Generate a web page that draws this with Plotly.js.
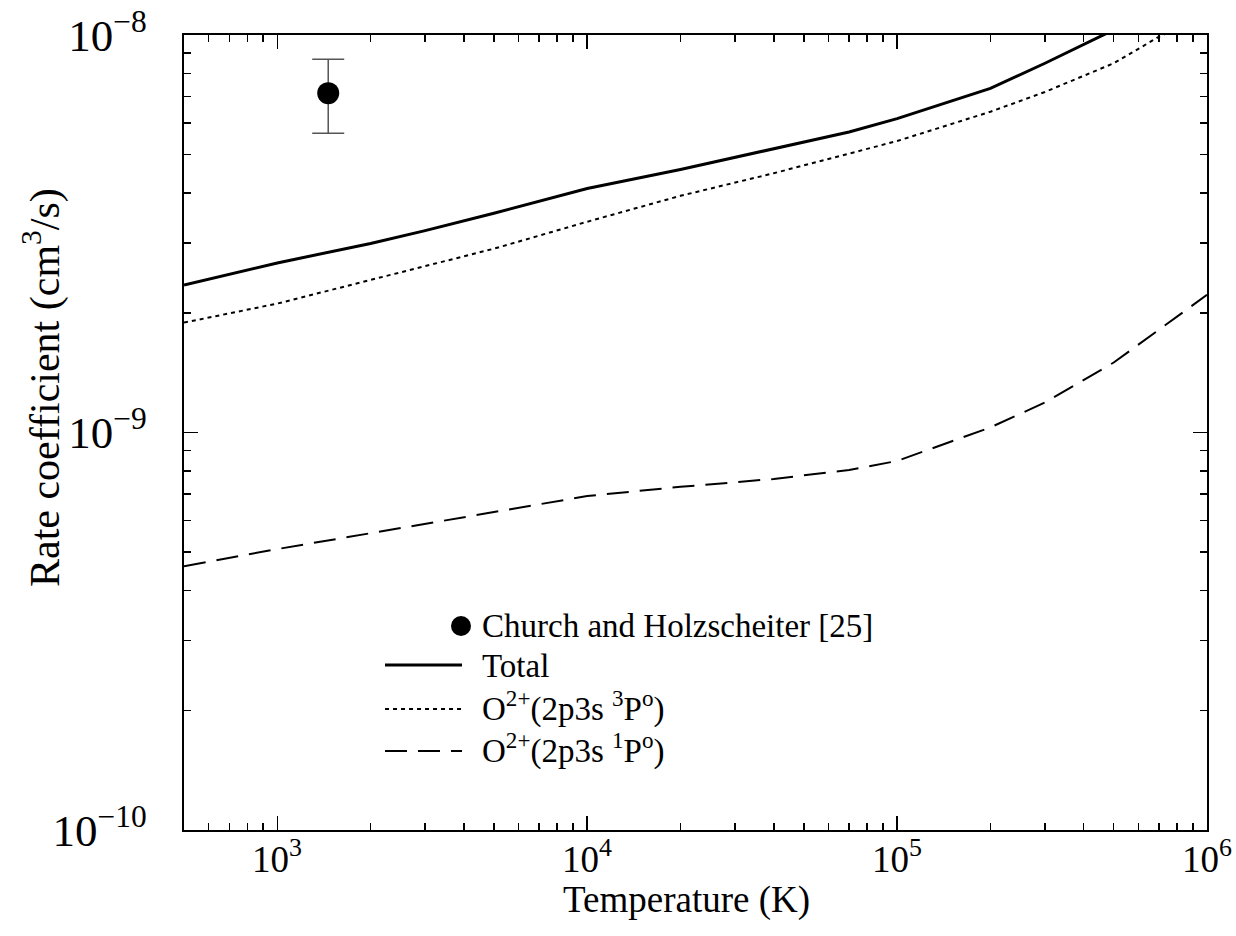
<!DOCTYPE html>
<html>
<head>
<meta charset="utf-8">
<script src="https://cdn.plot.ly/plotly-3.0.1.min.js"></script>
<style>html,body{margin:0;padding:0;background:#fff;}#chart{width:1236px;height:936px;}</style>
</head>
<body>
<div id="chart"></div>
<script>
// ---- data ----
const tempTotal = [500, 1000, 2000, 3000, 5000, 10000, 20000, 40000, 70000, 100000, 200000, 300000, 500000];
const rateTotal = [2.35e-9, 2.67e-9, 2.99e-9, 3.22e-9, 3.56e-9, 4.11e-9, 4.59e-9, 5.18e-9, 5.70e-9, 6.16e-9, 7.34e-9, 8.49e-9, 1.03e-8];

const temp3P = [500, 1000, 2000, 5000, 10000, 20000, 40000, 70000, 100000, 200000, 300000, 500000, 700000, 1000000];
const rate3P = [1.89e-9, 2.11e-9, 2.42e-9, 2.90e-9, 3.39e-9, 3.94e-9, 4.49e-9, 5.03e-9, 5.41e-9, 6.41e-9, 7.19e-9, 8.49e-9, 9.9e-9, 1.13e-8];

const temp1P = [500, 1000, 2000, 5000, 10000, 20000, 40000, 70000, 100000, 200000, 300000, 500000, 1000000];
const rate1P = [4.61e-10, 5.09e-10, 5.58e-10, 6.31e-10, 6.92e-10, 7.30e-10, 7.64e-10, 8.05e-10, 8.48e-10, 1.03e-9, 1.19e-9, 1.50e-9, 2.22e-9];

const expTemp = [1460];
const expRate = [7.14e-9];
const expErrPlus = [1.55e-9];
const expErrMinus = [1.48e-9];

const xTickVals = [1e3, 1e4, 1e5, 1e6];
const xTickLabels = ["10<sup>3</sup>", "10<sup>4</sup>", "10<sup>5</sup>", "10<sup>6</sup>"];

const legendLabels = [
  "Church and Holzscheiter [25]",
  "Total",
  "O<sup>2+</sup>(2p3s <sup>3</sup>P<sup>o</sup>)",
  "O<sup>2+</sup>(2p3s <sup>1</sup>P<sup>o</sup>)"
];
const xTitle = "Temperature (K)";
const yTitle = "Rate coefficient (cm<sup>3</sup>/s)";

const FONT = "Liberation Serif";

const traces = [
  {x: tempTotal, y: rateTotal, mode: 'lines', line: {color: 'black', width: 3}, name: legendLabels[1]},
  {x: temp3P, y: rate3P, mode: 'lines', line: {color: 'black', width: 2, dash: '4px,4px'}, name: legendLabels[2]},
  {x: temp1P, y: rate1P, mode: 'lines', line: {color: 'black', width: 2, dash: '22px,11px'}, name: legendLabels[3]},
  {x: expTemp, y: expRate, mode: 'markers', marker: {color: 'black', size: 22},
   error_y: {type: 'data', symmetric: false, array: expErrPlus, arrayminus: expErrMinus, color: '#555', thickness: 1.5, width: 16},
   name: legendLabels[0]}
];

// custom legend (paper coordinates)
const L = 184, R = 1207, T = 35, B = 830;
const px = v => (v - L) / (R - L);
const py = v => (B - v) / (B - T);
const legLineX0 = px(385), legLineX1 = px(462), legTextX = px(480);
const rowY = [626, 665, 709, 751];
const rowTextY = [626, 666, 706, 748];

const shapes = [
  {type: 'circle', xref: 'paper', yref: 'paper', x0: px(451), x1: px(471), y0: py(636), y1: py(616), fillcolor: 'black', line: {color: 'black', width: 0}},
  {type: 'line', xref: 'paper', yref: 'paper', x0: legLineX0, x1: legLineX1, y0: py(rowY[1]), y1: py(rowY[1]), line: {color: 'black', width: 3}},
  {type: 'line', xref: 'paper', yref: 'paper', x0: legLineX0, x1: legLineX1, y0: py(rowY[2]), y1: py(rowY[2]), line: {color: 'black', width: 2, dash: '4px,4px'}},
  {type: 'line', xref: 'paper', yref: 'paper', x0: legLineX0, x1: legLineX1, y0: py(rowY[3]), y1: py(rowY[3]), line: {color: 'black', width: 2, dash: '22px,11px'}}
];

const annotations = legendLabels.map((t, i) => ({
  xref: 'paper', yref: 'paper', x: legTextX, y: py(rowTextY[i]), xanchor: 'left', yanchor: 'middle',
  text: t, showarrow: false, font: {family: FONT, size: 33, color: 'black'}
}));
annotations.push({
  xref: 'paper', yref: 'paper', x: px(42), y: py(388), xanchor: 'center', yanchor: 'middle',
  text: yTitle, textangle: -90, showarrow: false, font: {family: FONT, size: 42, color: 'black'}
});
annotations.push({
  xref: 'paper', yref: 'paper', x: px(686), y: py(900), xanchor: 'center', yanchor: 'middle',
  text: xTitle, showarrow: false, font: {family: FONT, size: 37, color: 'black'}
});
// x tick labels (placed through the x axis scale)
xTickVals.forEach((v, i) => annotations.push({
  xref: 'x', yref: 'paper', x: Math.log10(v), y: py(856), xanchor: 'center', yanchor: 'middle',
  text: xTickLabels[i], showarrow: false, font: {family: FONT, size: 37, color: 'black'}
}));

const axisCommon = {
  type: 'log', dtick: 1, exponentformat: 'power', showexponent: 'all',
  showline: true, linecolor: 'black', linewidth: 2, mirror: 'allticks',
  ticks: 'inside', ticklen: 14, tickwidth: 1.5, tickcolor: 'black',
  showgrid: false, zeroline: false, ticklabeloverflow: 'allow',
  tickfont: {family: FONT, size: 36, color: 'black'},
  minor: {dtick: 'D1', ticks: 'inside', ticklen: 7, tickwidth: 1.5, tickcolor: 'black', showgrid: false}
};

const layout = {
  width: 1236, height: 936,
  margin: {l: L, r: 1236 - R, t: T, b: 936 - B},
  paper_bgcolor: 'white', plot_bgcolor: 'white',
  showlegend: false,
  font: {family: FONT, color: 'black'},
  xaxis: Object.assign({}, axisCommon, {
    range: [Math.log10(500), 6],
    showticklabels: false
  }),
  yaxis: Object.assign({}, axisCommon, {
    range: [-10, -8],
    ticklabelstandoff: 28
  }),
  shapes: shapes,
  annotations: annotations
};

Plotly.newPlot('chart', traces, layout, {staticPlot: true, displayModeBar: false});
</script>
</body>
</html>
